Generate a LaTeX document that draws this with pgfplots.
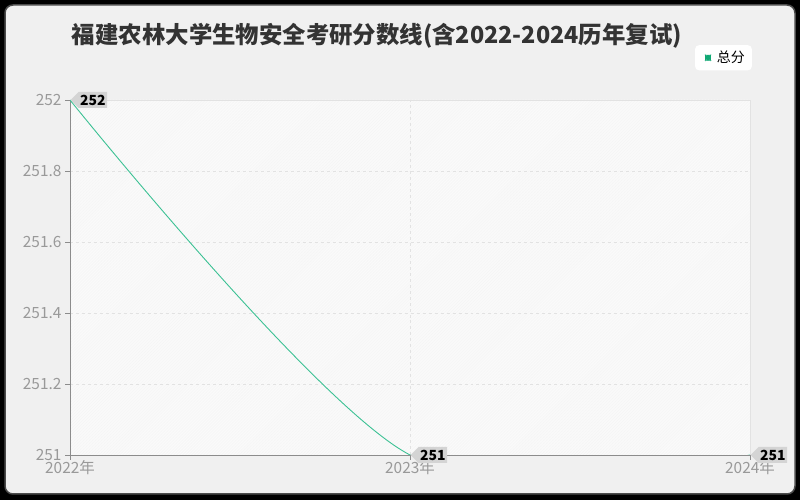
\documentclass[border=0pt]{standalone}
\usepackage{fontspec}
\setmainfont{Noto Sans CJK SC}
\usepackage{pgfplots}
\pgfplotsset{compat=1.18}
\usetikzlibrary{shapes.symbols,patterns}
\definecolor{bgc}{HTML}{F0F0F0}
\definecolor{plotbg}{HTML}{FAFAFA}
\definecolor{linegreen}{HTML}{3CC194}
\definecolor{markgreen}{HTML}{10A874}
\definecolor{tickgray}{HTML}{999999}
\definecolor{axisgray}{HTML}{8C8C8C}
\definecolor{gridgray}{HTML}{E2E2E2}
\definecolor{labelbg}{HTML}{D4D4D4}
\definecolor{titlec}{HTML}{333333}
\begin{document}
\begin{tikzpicture}[x=1bp,y=1bp]
% frame
\fill[black] (0,0) rectangle (800,500);
\draw[line width=1.5bp, draw=black!70, fill=bgc, rounded corners=8bp] (5,6) rectangle (795,495);
\node[font=\bfseries\fontsize{23.5}{23.5}\selectfont, text=titlec] at (377,464) {福建农林大学生物安全考研分数线(含2022-2024历年复试)};
\begin{axis}[
    at={(70bp,45bp)}, anchor=south west,
    scale only axis,
    width=680bp, height=355bp,
    xmin=2022, xmax=2024,
    ymin=251, ymax=252,
    xtick={2022,2023,2024},
    xticklabels={2022年,2023年,2024年},
    ytick={251,251.2,251.4,251.6,251.8,252},
    yticklabel style={/pgf/number format/fixed, /pgf/number format/precision=1},
    /pgf/number format/assume math mode=true,
    axis lines=left,
    axis line style={axisgray, line width=0.8bp, -},
    tick style={axisgray, line width=0.8bp},
    major tick length=5bp,
    tick align=outside,
    ticklabel style={font=\fontsize{15.5}{15.5}\selectfont, text=tickgray},
    xticklabel style={yshift=3bp},
    grid=major,
    major grid style={gridgray, dashed, line width=0.8bp},
    axis background/.style={preaction={fill=plotbg}, pattern=north east lines, pattern color=black!4, draw=gridgray},
    legend style={at={(1.003,1.155)}, anchor=north east, draw=none, fill=white,
        rounded corners=4bp, font=\fontsize{14}{14}\selectfont,
        inner xsep=5bp, inner ysep=4bp},
    legend image code/.code={\path (0bp,0bp) (14bp,0bp);
        \fill[markgreen] (5bp,-2.5bp) rectangle (10bp,2.5bp);},
    nodes near coords,
    every node near coord/.append style={shape=signal, signal to=west,
        signal pointer angle=90,
        fill=labelbg, text=black, anchor=west,
        font=\bfseries\fontsize{14}{14}\selectfont,
        minimum height=16bp,
        inner xsep=1.5bp, inner ysep=1bp},
]
\addplot[linegreen, line width=0.9bp, smooth, mark=none] coordinates {
    (2022,252) (2023,251) (2024,251)
};
\addlegendentry{总分}
\end{axis}
\end{tikzpicture}
\end{document}
